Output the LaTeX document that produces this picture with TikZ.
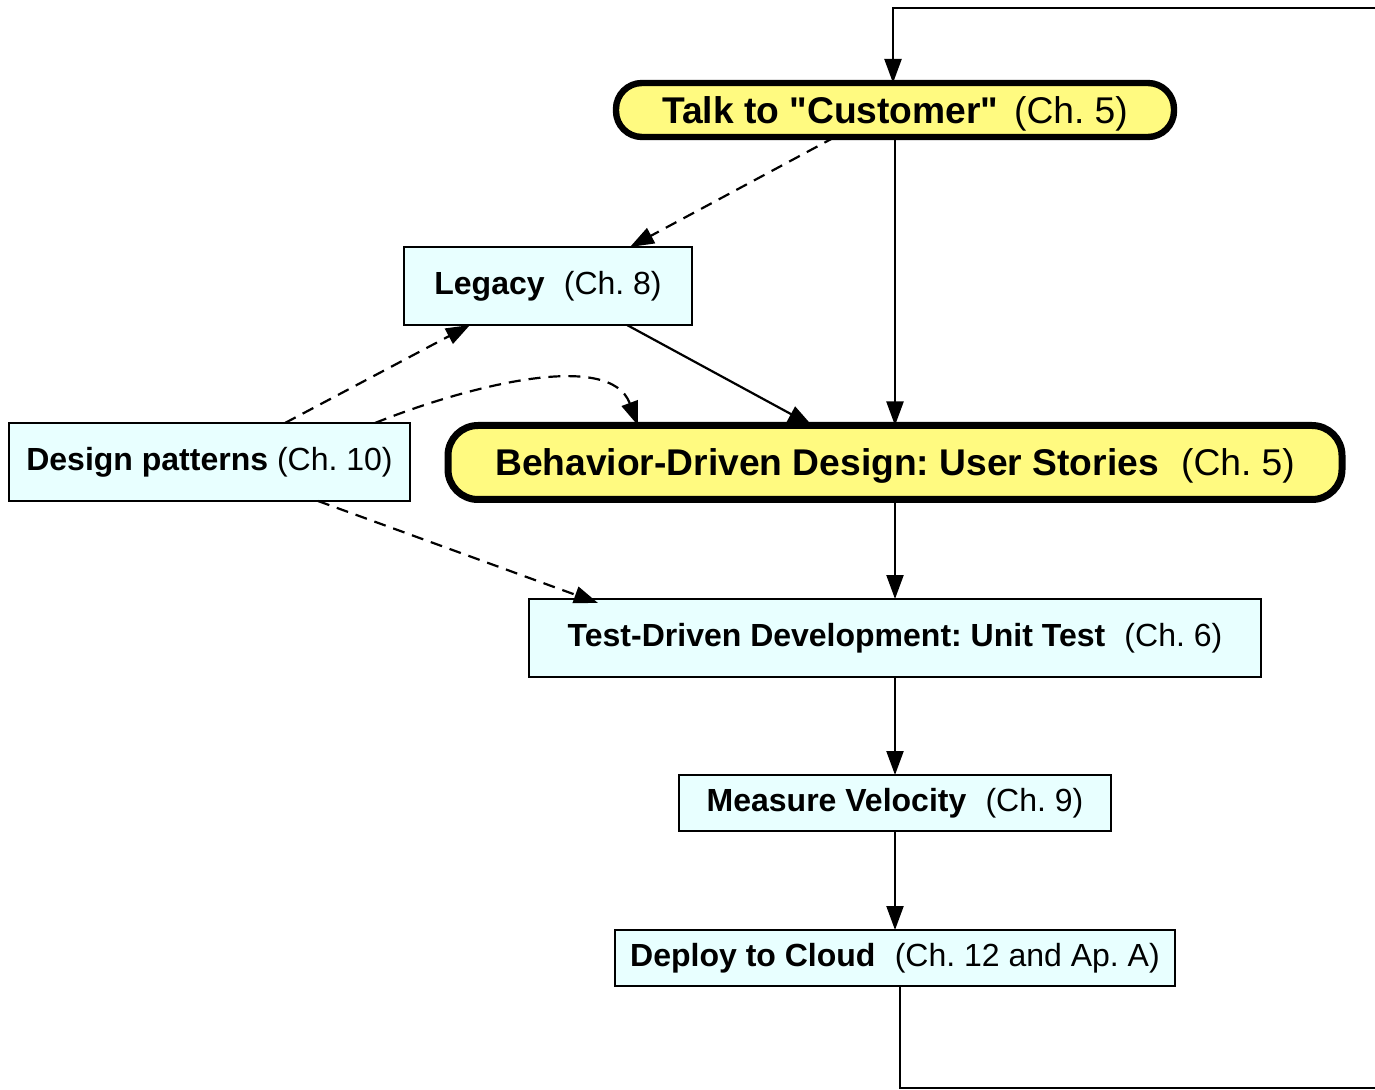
\documentclass[tikz,border=0pt]{standalone}
\usepackage{fontspec}
\setmainfont{Liberation Sans}
\usetikzlibrary{arrows.meta}
\definecolor{yelfill}{HTML}{FFFA80}
\definecolor{cyanfill}{HTML}{E8FFFF}
\frenchspacing
\begin{document}
\begin{tikzpicture}[x=0.5pt,y=-0.5pt,
  bigbox/.style={draw, line width=3.2pt, fill=yelfill, rounded corners=13pt, inner sep=0pt, outer sep=0pt,
    text depth=0pt, font=\fontsize{18.6}{20}\selectfont},
  smallbox/.style={draw, line width=1pt, fill=cyanfill, inner sep=0pt, outer sep=0pt,
    font=\fontsize{16}{18}\selectfont},
  arr/.style={line width=1.1pt, -{Triangle[length=12pt,width=8.5pt]}},
  darr/.style={arr, dash pattern=on 6pt off 4pt},
  plain/.style={line width=1.1pt}
]
\useasboundingbox (0,0) rectangle (1375,1090);

\node[bigbox, minimum width=279pt, minimum height=27pt] (talk) at (895,110)
  {\textbf{Talk to \textquotedbl Customer\textquotedbl}\hspace{0.42em}(Ch. 5)};
\node[bigbox, line width=3.5pt, rounded corners=15pt, minimum width=447pt, minimum height=37pt] (beh) at (895,462.5)
  {\textbf{Behavior-Driven Design: User Stories}\hspace{0.6em}(Ch. 5)};
\node[smallbox, minimum width=144pt, minimum height=39pt] (legacy) at (548,286)
  {\textbf{Legacy}\hspace{0.6em}(Ch. 8)};
\node[smallbox, minimum width=200.5pt, minimum height=39pt] (design) at (209.5,462)
  {\textbf{Design patterns} (Ch. 10)};
\node[smallbox, minimum width=366pt, minimum height=39pt] (test) at (895,638)
  {\textbf{Test-Driven Development: Unit Test}\hspace{0.6em}(Ch. 6)};
\node[smallbox, minimum width=216pt, minimum height=28pt] (measure) at (895,803)
  {\textbf{Measure Velocity}\hspace{0.6em}(Ch. 9)};
\node[smallbox, minimum width=280pt, minimum height=28pt] (deploy) at (895,958)
  {\textbf{Deploy to Cloud}\hspace{0.6em}(Ch. 12 and Ap. A)};

\coordinate (topright) at (1375,8);
\coordinate (botright) at (1375,1088);

% loop
\draw[arr] (topright) -| ([xshift=-1pt]talk.north);
\draw[plain] ([xshift=2.5pt]deploy.south) |- (botright);

% main flow
\draw[arr] (talk.south) -- (beh.north);
\draw[arr] (beh.south) -- (test.north);
\draw[arr] (test.south) -- (measure.north);
\draw[arr] (measure.south) -- (deploy.north);

% legacy
\draw[darr] ([xshift=-30pt]talk.south) -- ([xshift=41pt]legacy.north);
\draw[arr] ([xshift=39.5pt]legacy.south) -- ([xshift=-41.5pt]beh.north);

% design patterns
\draw[darr] ([xshift=37.75pt]design.north) -- ([xshift=-39pt]legacy.south);
\draw[darr] ([xshift=82.75pt]design.north) .. controls (470,385) and (610,350) .. ([xshift=-128.5pt]beh.north);
\draw[darr] ([xshift=54.25pt]design.south) -- ([xshift=-148.5pt,yshift=-2pt]test.north);
\end{tikzpicture}
\end{document}
